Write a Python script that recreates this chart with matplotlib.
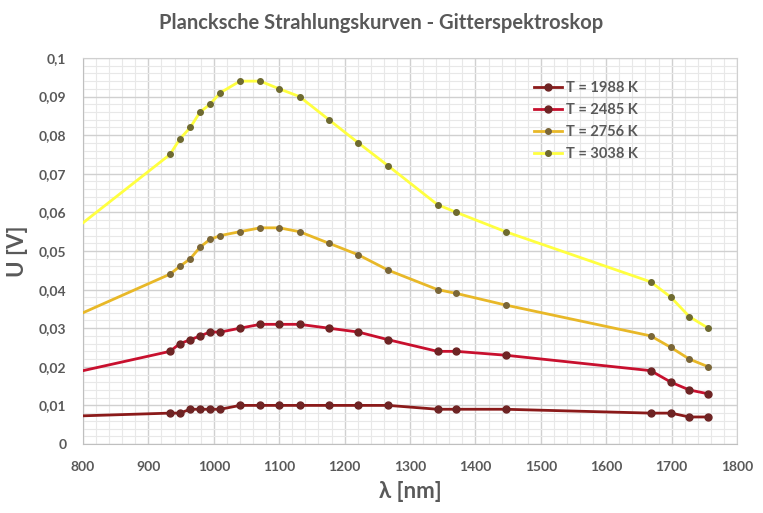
import numpy as np
import matplotlib
matplotlib.use('Agg')
import matplotlib.pyplot as plt
from matplotlib.ticker import MultipleLocator, FuncFormatter

plt.rcParams['font.family'] = ['Lato', 'DejaVu Sans']

# wavelengths in nm (first value is where the line enters at the left edge, no marker)
lam = [800, 933, 948, 964, 979, 994, 1010, 1040, 1071, 1100, 1131, 1176, 1221, 1267,
       1342, 1371, 1446, 1668, 1699, 1727, 1756]

u_1988 = [0.0073, 0.008, 0.008, 0.009, 0.009, 0.009, 0.009, 0.010, 0.010, 0.010, 0.010,
          0.010, 0.010, 0.010, 0.009, 0.009, 0.009, 0.008, 0.008, 0.007, 0.007]
u_2485 = [0.019, 0.024, 0.026, 0.027, 0.028, 0.029, 0.029, 0.030, 0.031, 0.031, 0.031,
          0.030, 0.029, 0.027, 0.024, 0.024, 0.023, 0.019, 0.016, 0.014, 0.013]
u_2756 = [0.034, 0.044, 0.046, 0.048, 0.051, 0.053, 0.054, 0.055, 0.056, 0.056, 0.055,
          0.052, 0.049, 0.045, 0.040, 0.039, 0.036, 0.028, 0.025, 0.022, 0.020]
u_3038 = [0.0573, 0.075, 0.079, 0.082, 0.086, 0.088, 0.091, 0.094, 0.094, 0.092, 0.090,
          0.084, 0.078, 0.072, 0.062, 0.060, 0.055, 0.042, 0.038, 0.033, 0.030]

series = [('T = 1988 K', u_1988, '#8B1A1A', '#6E2424', 5),
          ('T = 2485 K', u_2485, '#C8102E', '#6E2424', 5),
          ('T = 2756 K', u_2756, '#E8B828', '#7A6638', 4),
          ('T = 3038 K', u_3038, '#FFFF40', '#6E6A30', 4)]

grey = '#595959'

fig = plt.figure(figsize=(7.63, 5.13), dpi=100)
ax = fig.add_axes([0.1088, 0.1345, 0.8572, 0.7525])

for label, vals, lc, mc, ms in series:
    ax.plot(lam, vals, color=lc, lw=2, marker='o', ms=ms, mfc=mc, mec=mc,
            markevery=list(range(1, len(lam))), label=label, zorder=3)

ax.set_xlim(800, 1800)
ax.set_ylim(0, 0.1)
ax.xaxis.set_major_locator(MultipleLocator(100))
ax.xaxis.set_minor_locator(MultipleLocator(20))
ax.yaxis.set_major_locator(MultipleLocator(0.01))
ax.yaxis.set_minor_locator(MultipleLocator(0.002))
ax.grid(which='major', color='#D0D0D0', lw=1)
ax.grid(which='minor', color='#E8E8E8', lw=0.8)
ax.set_axisbelow(True)

def yfmt(v, pos):
    s = ('%.2f' % v).rstrip('0').rstrip('.')
    return s.replace('.', ',')

ax.yaxis.set_major_formatter(FuncFormatter(yfmt))
ax.tick_params(which='both', length=0, colors=grey, labelsize=10)
for t in ax.get_xticklabels() + ax.get_yticklabels():
    t.set_fontweight('bold')
ax.tick_params(axis='x', pad=12)
ax.tick_params(axis='y', pad=12)
for s in ax.spines.values():
    s.set_color('#D0D0D0')
ax.spines['bottom'].set_color('#BFBFBF')
ax.spines['left'].set_color('#BFBFBF')

ax.set_xlabel('λ [nm]', fontsize=16, fontweight='bold', color=grey, labelpad=6)
ax.set_ylabel('U [V]', fontsize=16, fontweight='bold', color=grey, labelpad=8)
fig.suptitle('Plancksche Strahlungskurven - Gitterspektroskop', x=0.5, y=0.975,
             fontsize=14.5, fontweight='bold', color=grey)

leg = ax.legend(loc='upper left', bbox_to_anchor=(0.67, 0.975), frameon=False,
                handlelength=1.9, handletextpad=0.3, labelspacing=0.55,
                prop={'weight': 'bold', 'size': 10.5})
for t in leg.get_texts():
    t.set_color(grey)

fig.savefig('out.png', dpi=100)
